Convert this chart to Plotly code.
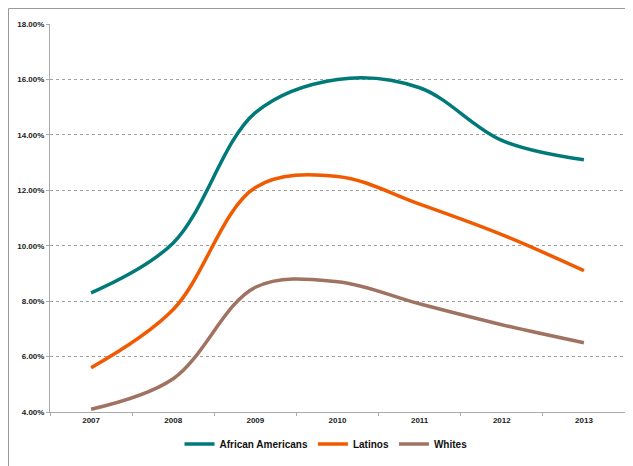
import plotly.graph_objects as go

years = ["2007", "2008", "2009", "2010", "2011", "2012", "2013"]
african_americans = [8.3, 10.1, 14.8, 16.0, 15.7, 13.8, 13.1]
latinos = [5.6, 7.7, 12.1, 12.5, 11.5, 10.4, 9.1]
whites = [4.1, 5.2, 8.5, 8.7, 7.9, 7.15, 6.5]
y_ticks = [4, 6, 8, 10, 12, 14, 16, 18]
y_tick_labels = ["4.00%", "6.00%", "8.00%", "10.00%", "12.00%", "14.00%", "16.00%", "18.00%"]

series = [
    ("African Americans", african_americans, "#007a79"),
    ("Latinos", latinos, "#f05a00"),
    ("Whites", whites, "#a07262"),
]

font_fam = "Liberation Sans Narrow, Liberation Sans, Arial, sans-serif"

fig = go.Figure()
for name, vals, col in series:
    fig.add_trace(go.Scatter(
        x=years, y=vals, name=name, mode="lines",
        line=dict(color=col, width=3.5, shape="spline", smoothing=1.0),
    ))

fig.update_layout(
    width=625, height=458,
    margin=dict(l=42, r=8, t=16, b=54, autoexpand=False),
    paper_bgcolor="white", plot_bgcolor="white",
    font=dict(family=font_fam, size=8, color="#222222", weight="bold"),
    showlegend=True,
    legend=dict(orientation="h", x=0.48, xanchor="center", y=-0.0825, yanchor="middle",
                font=dict(family=font_fam, size=10, color="#111111", weight="bold"),
                itemwidth=30, tracegroupgap=0),
    xaxis=dict(
        type="category", showgrid=False, showline=True, linecolor="#aaaaaa", linewidth=1,
        ticks="outside", tickson="boundaries", ticklen=3, tickcolor="#aaaaaa",
        tickfont=dict(family=font_fam, size=8, color="#222222", weight="bold"),
        range=[-0.5, 6.5], automargin=False,
    ),
    yaxis=dict(
        range=[4, 18], tickvals=y_ticks, ticktext=y_tick_labels,
        showgrid=True, gridcolor="#a0a0a0", griddash="dot", gridwidth=1,
        showline=True, linecolor="#aaaaaa", linewidth=1,
        ticks="outside", ticklen=3, tickcolor="#aaaaaa",
        tickfont=dict(family=font_fam, size=8, color="#222222", weight="bold"),
        zeroline=False, automargin=False,
    ),
    shapes=[
        dict(type="line", xref="paper", yref="paper", x0=-0.0722, x1=1.02, y0=1.04, y1=1.04,
             line=dict(color="#999999", width=1)),
        dict(type="line", xref="paper", yref="paper", x0=-0.0722, x1=-0.0722, y0=-0.16, y1=1.04,
             line=dict(color="#999999", width=1)),
    ],
)

fig.write_html("out.html")
